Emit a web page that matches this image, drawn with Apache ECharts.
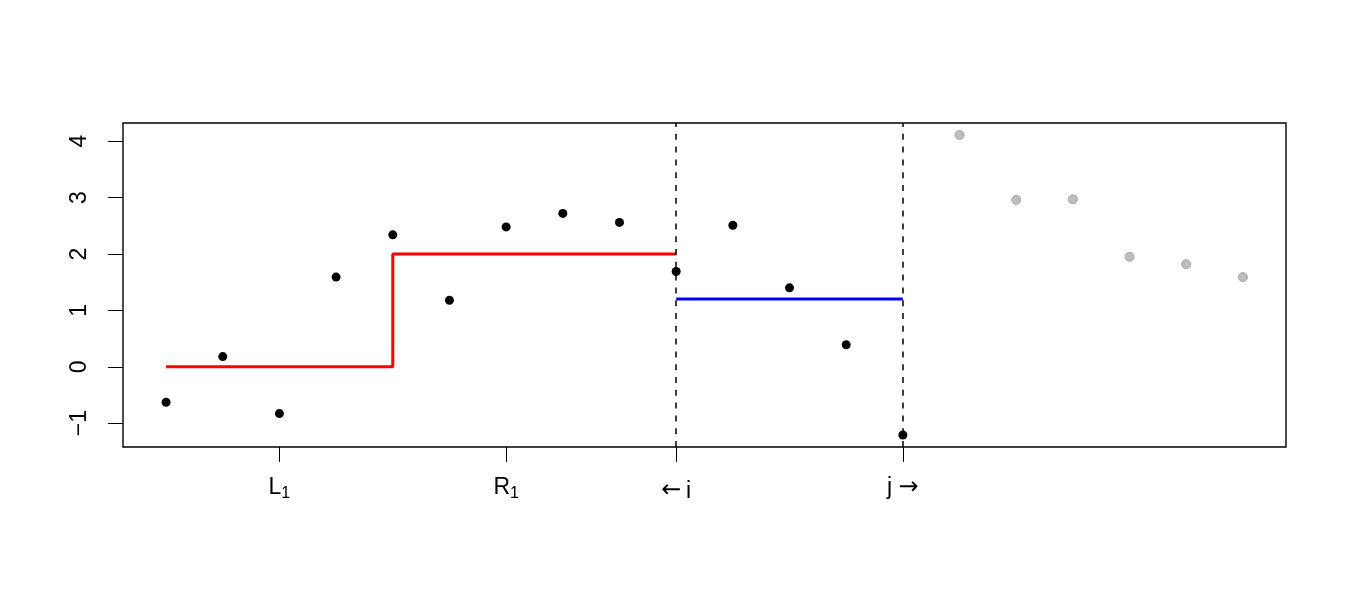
<!DOCTYPE html>
<html>
<head>
<meta charset="utf-8">
<script src="https://cdn.jsdelivr.net/npm/echarts@6/dist/echarts.min.js"></script>
<style>
  html, body { margin: 0; padding: 0; background: #fff; }
  #container { width: 1350px; height: 600px; }
</style>
</head>
<body>
<div id="container"></div>
<script>
// observed points, x = 1..14 (black) and 15..20 (grey)
var activeY = [-0.63, 0.18, -0.83, 1.59, 2.34, 1.18, 2.48, 2.72, 2.56, 1.69, 2.51, 1.40, 0.39, -1.21];
var futureY = [4.11, 2.96, 2.97, 1.95, 1.82, 1.59];

// fitted segments
var stepX = [1, 5, 5, 10];
var stepY = [0, 0, 2, 2];
var blueX = [10, 14];
var blueY = [1.2, 1.2];

// dashed cut positions
var cutX = [10, 14];

// axis ticks
var tickX = [3, 7, 10, 14];
var tickText = ["{m|L}{s|1}", "{m|R}{s|1}", "{ar|\u2190}{a|\u2009i}", "{m|j }{ar2|\u2192}"];
var tickY = [-1, 0, 1, 2, 3, 4];

var activePts = activeY.map(function (y, i) { return [i + 1, y]; });
var futurePts = futureY.map(function (y, i) { return [activeY.length + i + 1, y]; });
var stepPts = stepX.map(function (x, i) { return [x, stepY[i]]; });
var bluePts = blueX.map(function (x, i) { return [x, blueY[i]]; });

var dom = document.getElementById("container");
var myChart = echarts.init(dom, null, { renderer: "canvas" });

var font = "Liberation Sans";
var option = {
  animation: false,
  backgroundColor: "#fff",
  grid: {
    left: 123,
    right: 64,
    top: 123,
    bottom: 153,
    show: true,
    borderColor: "#000",
    borderWidth: 1.4,
    backgroundColor: "transparent",
  },
  xAxis: {
    type: "value",
    min: 0.24,
    max: 20.76,
    splitLine: { show: false },
    axisLine: { show: false, onZero: false },
    axisTick: {
      show: true,
      length: 15,
      customValues: tickX,
      lineStyle: { color: "#000", width: 1 },
    },
    axisLabel: {
      customValues: tickX,
      margin: 26,
      color: "#000",
      fontFamily: font,
      formatter: function (v) {
        return tickText[tickX.indexOf(v)];
      },
      rich: {
        m: { fontSize: 23, fontFamily: font, color: "#000", lineHeight: 29 },
        s: { fontSize: 16, fontFamily: font, color: "#000", lineHeight: 16, padding: [13, 0, 0, 0] },
        a: { fontSize: 23, fontFamily: font, color: "#000", lineHeight: 29, padding: [8, 0, 0, 0] },
        ar: { fontSize: 24, fontFamily: "DejaVu Sans", color: "#000", lineHeight: 29, padding: [6, 0, 0, 0] },
        ar2: { fontSize: 24, fontFamily: "DejaVu Sans", color: "#000", lineHeight: 29 },
      },
    },
  },
  yAxis: {
    type: "value",
    min: -1.4228,
    max: 4.3228,
    splitLine: { show: false },
    axisLine: { show: false, onZero: false },
    axisTick: {
      show: true,
      length: 15,
      customValues: tickY,
      lineStyle: { color: "#000", width: 1 },
    },
    axisLabel: {
      customValues: tickY,
      rotate: 90,
      margin: 32,
      fontSize: 23,
      fontFamily: font,
      color: "#000",
      formatter: function (v) {
        return v < 0 ? "\u2212" + Math.abs(v) : String(v);
      },
    },
  },
  series: [
    {
      name: "step",
      type: "line",
      data: stepPts,
      symbol: "none",
      lineStyle: { color: "#ff0000", width: 3 },
      z: 3,
      markLine: {
        silent: true,
        symbol: "none",
        label: { show: false },
        lineStyle: { color: "#000", width: 1.5, type: [6, 6.8] },
        data: cutX.map(function (x) { return { xAxis: x }; }),
      },
    },
    {
      name: "blue",
      type: "line",
      data: bluePts,
      symbol: "none",
      lineStyle: { color: "#0000ff", width: 3 },
      z: 3,
    },
    {
      name: "active",
      type: "scatter",
      data: activePts,
      symbol: "circle",
      symbolSize: 9,
      itemStyle: { color: "#000", opacity: 1 },
      z: 4,
    },
    {
      name: "future",
      type: "scatter",
      data: futurePts,
      symbol: "circle",
      symbolSize: 9,
      itemStyle: { color: "#bebebe", borderColor: "#a6a6a6", borderWidth: 1, opacity: 1 },
      z: 4,
    },
  ],
};

myChart.setOption(option);
window.addEventListener("resize", myChart.resize);
</script>
</body>
</html>
